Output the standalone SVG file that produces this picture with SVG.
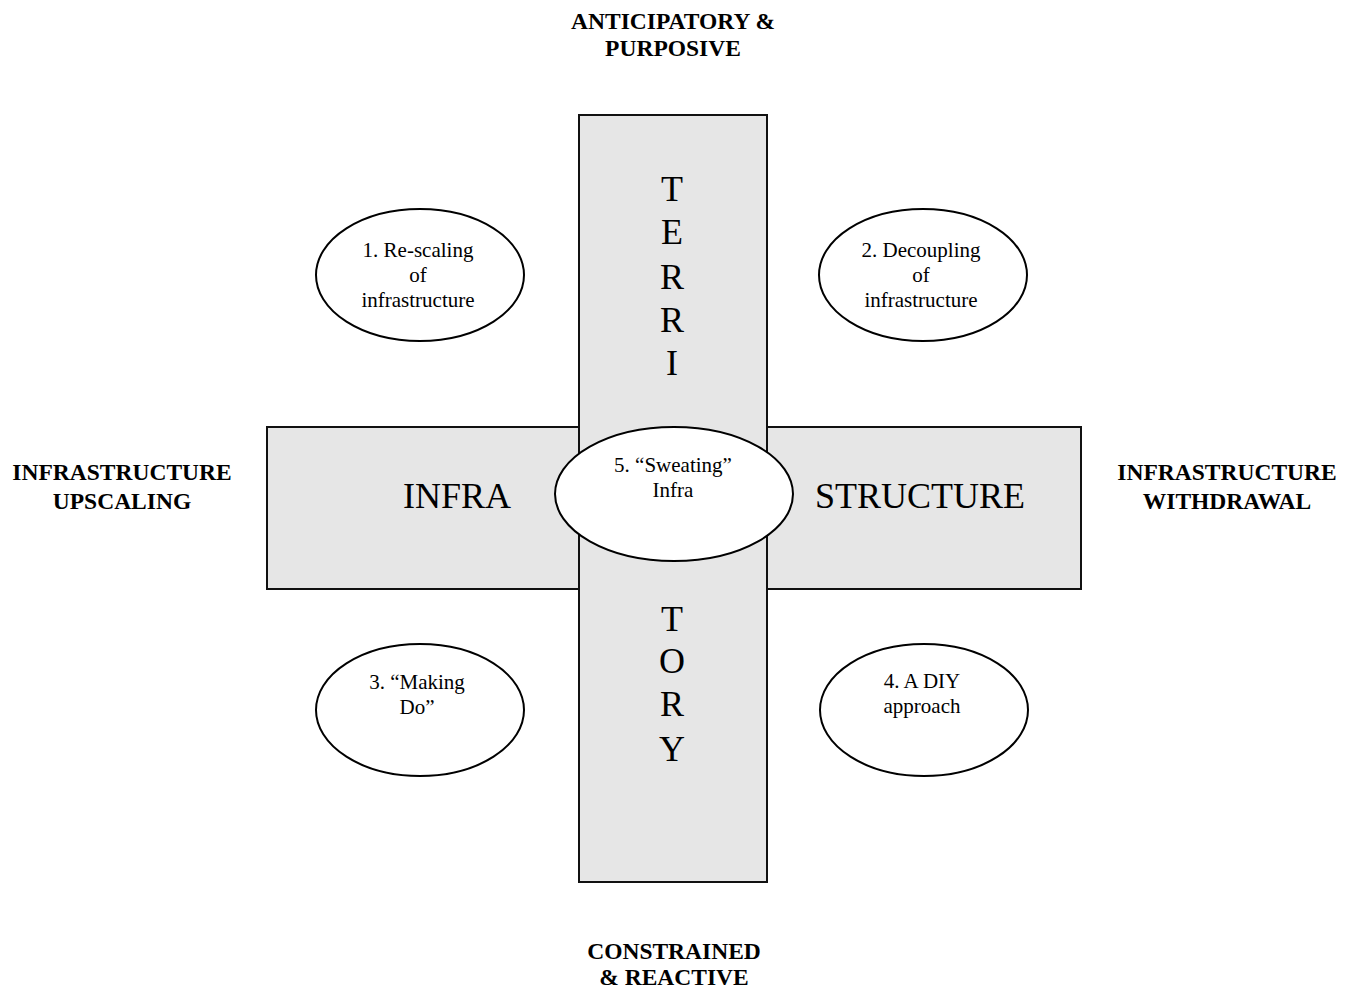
<svg xmlns="http://www.w3.org/2000/svg" width="1347" height="992" viewBox="0 0 1347 992">
<style>
.bar{fill:#e6e6e6;stroke:#111;stroke-width:2}
.ell{fill:#fff;stroke:#000;stroke-width:2}
.big{font-family:"Liberation Serif","Times New Roman",serif;font-size:36px;fill:#000;text-anchor:middle}
.small{font-family:"Liberation Serif","Times New Roman",serif;font-size:21px;fill:#000;text-anchor:middle}
.lab{font-family:"Liberation Serif","Times New Roman",serif;font-size:23.5px;font-weight:bold;fill:#000;text-anchor:middle}
</style>
<rect width="1347" height="992" fill="#fff"/>
<g id="axis-labels">
<text class="lab" x="673" y="29">ANTICIPATORY &amp;</text>
<text class="lab" x="673" y="56">PURPOSIVE</text>
<text class="lab" x="674" y="959">CONSTRAINED</text>
<text class="lab" x="674" y="985">&amp; REACTIVE</text>
<text class="lab" x="122" y="480">INFRASTRUCTURE</text>
<text class="lab" x="122" y="509">UPSCALING</text>
<text class="lab" x="1227" y="480">INFRASTRUCTURE</text>
<text class="lab" x="1227" y="509">WITHDRAWAL</text>
</g>
<g id="connectors"></g>
<g id="horizontal-bar">
<rect class="bar" x="267" y="427" width="814" height="162"/>
<text class="big" x="457" y="508">INFRA</text>
<text class="big" x="920" y="508">STRUCTURE</text>
</g>
<g id="vertical-bar">
<rect class="bar" x="579" y="115" width="188" height="767"/>
<text class="big" x="672" y="201">T</text>
<text class="big" x="672" y="244">E</text>
<text class="big" x="672" y="289">R</text>
<text class="big" x="672" y="332">R</text>
<text class="big" x="672" y="375">I</text>
<text class="big" x="672" y="631">T</text>
<text class="big" x="672" y="673">O</text>
<text class="big" x="672" y="716">R</text>
<text class="big" x="672" y="761">Y</text>
</g>
<g id="node1">
<ellipse class="ell" cx="420" cy="275" rx="104" ry="66"/>
<text class="small" x="418" y="257">1. Re-scaling</text>
<text class="small" x="418" y="282">of</text>
<text class="small" x="418" y="307">infrastructure</text>
</g>
<g id="node2">
<ellipse class="ell" cx="923" cy="275" rx="104" ry="66"/>
<text class="small" x="921" y="257">2. Decoupling</text>
<text class="small" x="921" y="282">of</text>
<text class="small" x="921" y="307">infrastructure</text>
</g>
<g id="node3">
<ellipse class="ell" cx="420" cy="710" rx="104" ry="66"/>
<text class="small" x="417" y="689">3. “Making</text>
<text class="small" x="417" y="714">Do”</text>
</g>
<g id="node4">
<ellipse class="ell" cx="924" cy="710" rx="104" ry="66"/>
<text class="small" x="922" y="688">4. A DIY</text>
<text class="small" x="922" y="713">approach</text>
</g>
<g id="node5">
<ellipse class="ell" cx="674" cy="494" rx="119" ry="67"/>
<text class="small" x="673" y="472">5. “Sweating”</text>
<text class="small" x="673" y="497">Infra</text>
</g>
</svg>
